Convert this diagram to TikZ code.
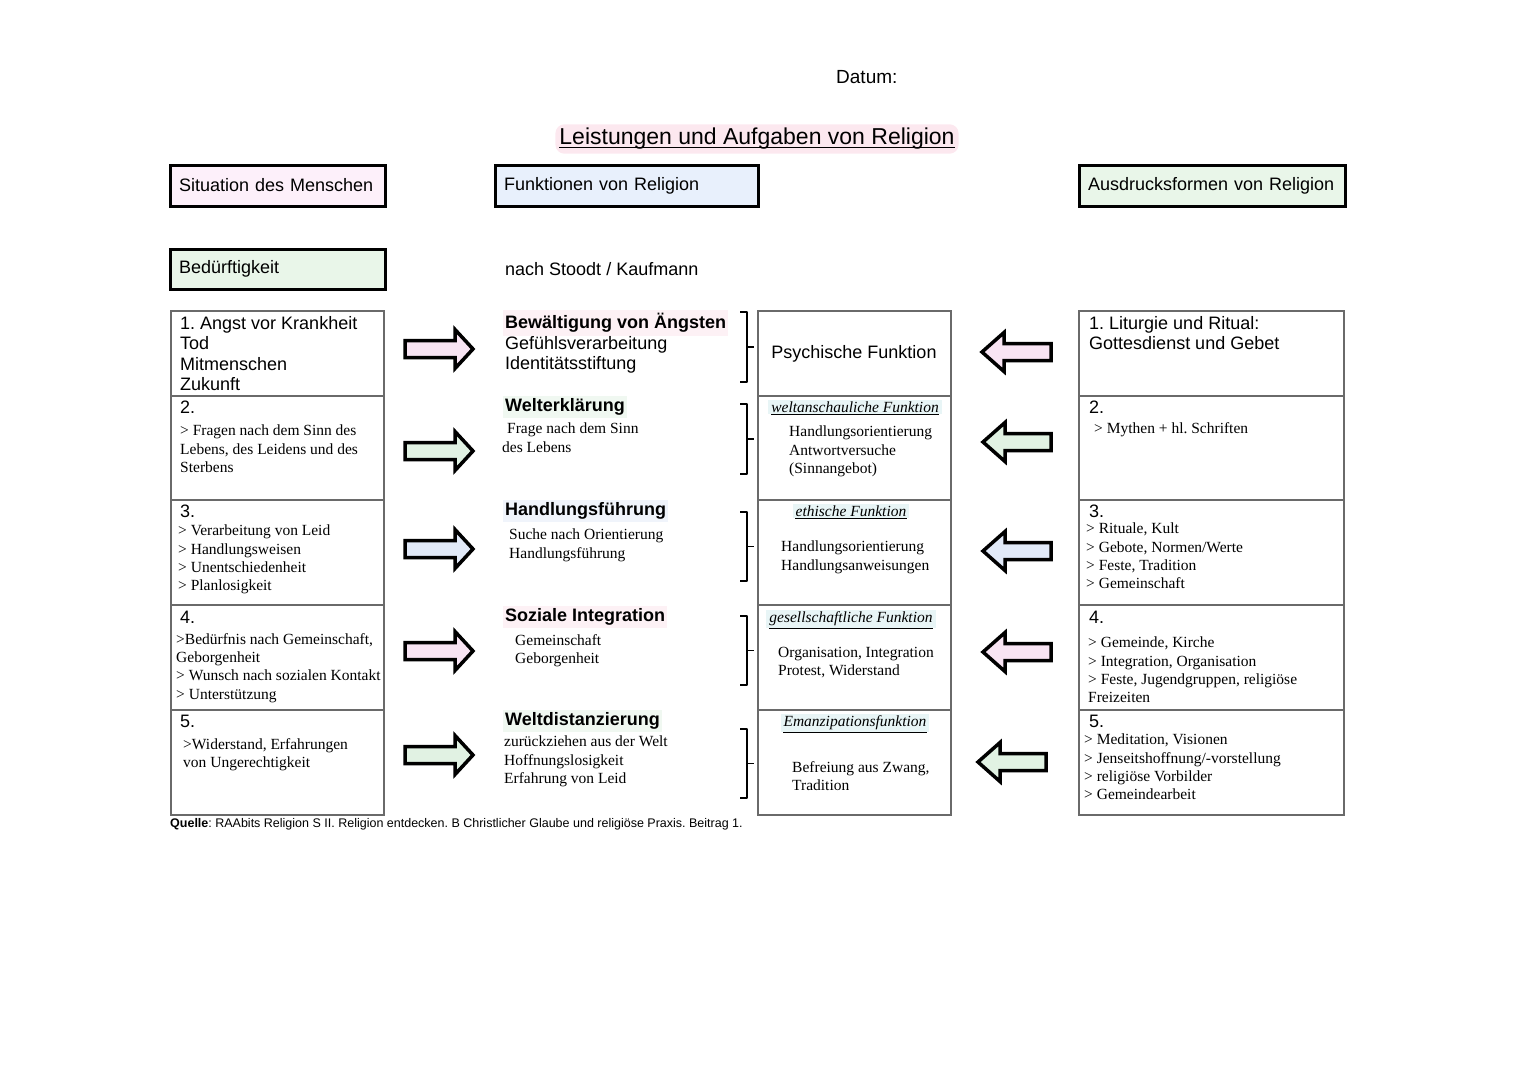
\documentclass[tikz,border=0pt]{standalone}
\usepackage{fontspec}
\setmainfont{Liberation Serif}
\setsansfont{Liberation Sans}
\frenchspacing

\definecolor{pinkbox}{HTML}{FDF0FA}
\definecolor{bluebox}{HTML}{E8F0FC}
\definecolor{greenbox}{HTML}{E9F6E9}
\definecolor{pinkarr}{HTML}{F8E4F3}
\definecolor{greenarr}{HTML}{E1F2E3}
\definecolor{bluearr}{HTML}{E1E9F8}
\definecolor{pinkhl}{HTML}{FDF1F5}
\definecolor{greenhl}{HTML}{F0F8F1}
\definecolor{bluehl}{HTML}{F0F4FB}
\definecolor{cyanhl}{HTML}{E8F5F6}
\definecolor{titlehl}{HTML}{FCE8EF}
\definecolor{cellgray}{HTML}{6A6A6A}

\begin{document}
\begin{tikzpicture}[x=1pt, y=-1pt,
  every node/.style={inner sep=0pt},
  sans/.style={font=\sffamily\fontsize{18}{20.5}\selectfont},
  serif/.style={font=\rmfamily\fontsize{15.5}{18.3}\selectfont},
  head/.style={font=\sffamily\bfseries\fontsize{18}{20.5}\selectfont, inner xsep=2pt, inner ysep=3pt},
  scripttitle/.style={font=\rmfamily\itshape\fontsize{15.5}{18}\selectfont, fill=cyanhl, inner xsep=3pt, inner ysep=2pt},
  headbox/.style={draw=black, line width=3pt, sans, text width=#1-18pt, minimum width=#1, minimum height=41pt, align=left},
  block/.style={anchor=north west, align=left},
  cellline/.style={draw=cellgray, line width=1.1pt},
  bigarrow/.style={draw=black, line width=3.5pt, miter limit=20},
  brack/.style={draw=black, line width=1.8pt, line join=round}]
  \useasboundingbox (0,0) rectangle (1527,1080);

  % kopf
  \node[sans, anchor=west, font=\sffamily\fontsize{19}{22}\selectfont] (datum) at (836,77) {Datum:};
  \node[sans, fill=titlehl, rounded corners=9pt, inner xsep=4pt, inner ysep=4pt,
        font=\sffamily\fontsize{23}{26}\selectfont] (titel) at (757,139)
    {Leistungen und Aufgaben von Religion};
  \draw[line width=1.4pt] ([xshift=4pt,yshift=-2.5pt]titel.base west) -- ([xshift=-4pt,yshift=-2.5pt]titel.base east);

  \node[headbox=215pt, fill=pinkbox] (situation) at (277.5,185.5) {\raisebox{-1.5pt}{Situation des Menschen}};
  \node[headbox=263pt, fill=bluebox] (funktionen) at (626.5,185.5) {\raisebox{-1.5pt}{Funktionen von Religion}};
  \node[headbox=266pt, fill=greenbox] (ausdruck) at (1212,185.5) {\raisebox{-1.5pt}{Ausdrucksformen von Religion}};
  \node[headbox=215pt, fill=greenbox, minimum height=40pt] (beduerftig) at (277.5,269) {\raisebox{-2pt}{Bedürftigkeit}};
  \node[sans, anchor=west] (stoodt) at (505,269) {nach Stoodt / Kaufmann};

  % tabellen
  \foreach \xa/\xb in {171/384, 758/951, 1079/1344} {
    \draw[cellline] (\xa,311) rectangle (\xb,815);
    \foreach \y in {396,500,605,710}
      \draw[cellline] (\xa,\y) -- (\xb,\y);
  }

  % pfeile nach rechts
  \foreach \y/\c in {349/pinkarr, 451/greenarr, 549/bluearr, 651/pinkarr, 755/greenarr} {
    \draw[bigarrow, fill=\c] (405,\y-8.5) -- (455,\y-8.5) -- (455,\y-19.5) -- (473,\y)
      -- (455,\y+19.5) -- (455,\y+8.5) -- (405,\y+8.5) -- cycle;
  }
  % pfeile nach links
  \foreach \y/\xt/\xe/\c in {352/982/1051/pinkarr, 442/983/1051/greenarr, 551/983/1051/bluearr,
                             652/983/1051/pinkarr, 762/978/1046/greenarr} {
    \draw[bigarrow, fill=\c] (\xe,\y-8.5) -- (\xt+22,\y-8.5) -- (\xt+22,\y-19.5) -- (\xt,\y)
      -- (\xt+22,\y+19.5) -- (\xt+22,\y+8.5) -- (\xe,\y+8.5) -- cycle;
  }

  % klammern
  \foreach \ya/\yb in {312/382, 404/474, 512/581, 616/685, 729/798} {
    \draw[brack] (740,\ya) -- (747,\ya) -- (747,\yb) -- (740,\yb);
    \draw[brack] (747,{(\ya+\yb)/2}) -- (754,{(\ya+\yb)/2});
  }

  % situation des menschen
  \node[sans, block] (sit1) at (180,316) {1. Angst vor Krankheit\\Tod\\Mitmenschen\\Zukunft};
  \node[sans, anchor=west] (sit2) at (180,407) {2.};
  \node[serif, block] (sit2t) at (180,425) {> Fragen nach dem Sinn des\\Lebens, des Leidens und des\\Sterbens};
  \node[sans, anchor=west] (sit3) at (180,511) {3.};
  \node[serif, block] (sit3t) at (178,525) {> Verarbeitung von Leid\\> Handlungsweisen\\> Unentschiedenheit\\> Planlosigkeit};
  \node[sans, anchor=west] (sit4) at (180,617) {4.};
  \node[serif, block] (sit4t) at (176,633) {>Bedürfnis nach Gemeinschaft,\\Geborgenheit\\> Wunsch nach sozialen Kontakt\\> Unterstützung};
  \node[sans, anchor=west] (sit5) at (180,721) {5.};
  \node[serif, block] (sit5t) at (183,738) {>Widerstand, Erfahrungen\\von Ungerechtigkeit};

  % funktionen
  \node[head, anchor=west, fill=pinkhl] (fun1) at (503,323) {Bewältigung von Ängsten};
  \node[sans, block] (fun1t) at (505,336) {Gefühlsverarbeitung\\Identitätsstiftung};
  \node[head, anchor=west, fill=greenhl] (fun2) at (503,407) {Welterklärung};
  \node[serif, block] (fun2t) at (502,423) {\hspace*{5pt}Frage nach dem Sinn\\des Lebens};
  \node[head, anchor=west, fill=bluehl] (fun3) at (503,511) {Handlungsführung};
  \node[serif, block] (fun3t) at (509,529) {Suche nach Orientierung\\Handlungsführung};
  \node[head, anchor=west, fill=pinkhl] (fun4) at (503,617) {Soziale Integration};
  \node[serif, block] (fun4t) at (515,634) {Gemeinschaft\\Geborgenheit};
  \node[head, anchor=west, fill=greenhl] (fun5) at (503,721) {Weltdistanzierung};
  \node[serif, block] (fun5t) at (504,736) {zurückziehen aus der Welt\\Hoffnungslosigkeit\\Erfahrung von Leid};

  % rollen der religion
  \node[sans] (rol1) at (854,354) {Psychische Funktion};
  \node[scripttitle] (rol2) at (855,407) {weltanschauliche Funktion};
  \node[serif, block] (rol2t) at (789,426) {Handlungsorientierung\\Antwortversuche\\(Sinnangebot)};
  \node[scripttitle] (rol3) at (851,511) {ethische Funktion};
  \node[serif, block] (rol3t) at (781,541) {Handlungsorientierung\\Handlungsanweisungen};
  \node[scripttitle] (rol4) at (851,619) {gesellschaftliche Funktion};
  \node[serif, block] (rol4t) at (778,647) {Organisation, Integration\\Protest, Widerstand};
  \node[scripttitle] (rol5) at (855,723) {Emanzipationsfunktion};
  \node[serif, block] (rol5t) at (792,761) {Befreiung aus Zwang,\\Tradition};
  \foreach \n in {rol2,rol3,rol4,rol5}
    \draw[line width=1.3pt] ([xshift=3pt]\n.south west) -- ([xshift=-3pt]\n.south east);

  % ausdrucksformen
  \node[sans, block] (aus1) at (1089,316) {1. Liturgie und Ritual:\\Gottesdienst und Gebet};
  \node[sans, anchor=west] (aus2) at (1089,407) {2.};
  \node[serif, anchor=west] (aus2t) at (1094,430) {> Mythen + hl. Schriften};
  \node[sans, anchor=west] (aus3) at (1089,511) {3.};
  \node[serif, block] (aus3t) at (1086,523) {> Rituale, Kult\\> Gebote, Normen/Werte\\> Feste, Tradition\\> Gemeinschaft};
  \node[sans, anchor=west] (aus4) at (1089,617) {4.};
  \node[serif, block] (aus4t) at (1088,637) {> Gemeinde, Kirche\\> Integration, Organisation\\> Feste, Jugendgruppen, religiöse\\Freizeiten};
  \node[sans, anchor=west] (aus5) at (1089,721) {5.};
  \node[serif, block] (aus5t) at (1084,734) {> Meditation, Visionen\\> Jenseitshoffnung/-vorstellung\\> religiöse Vorbilder\\> Gemeindearbeit};

  % quelle
  \node[anchor=west, font=\sffamily\fontsize{12.5}{14}\selectfont] (quelle) at (170,824)
    {\textbf{Quelle}: RAAbits Religion S II. Religion entdecken. B Christlicher Glaube und religiöse Praxis. Beitrag 1.};
\end{tikzpicture}
\end{document}
